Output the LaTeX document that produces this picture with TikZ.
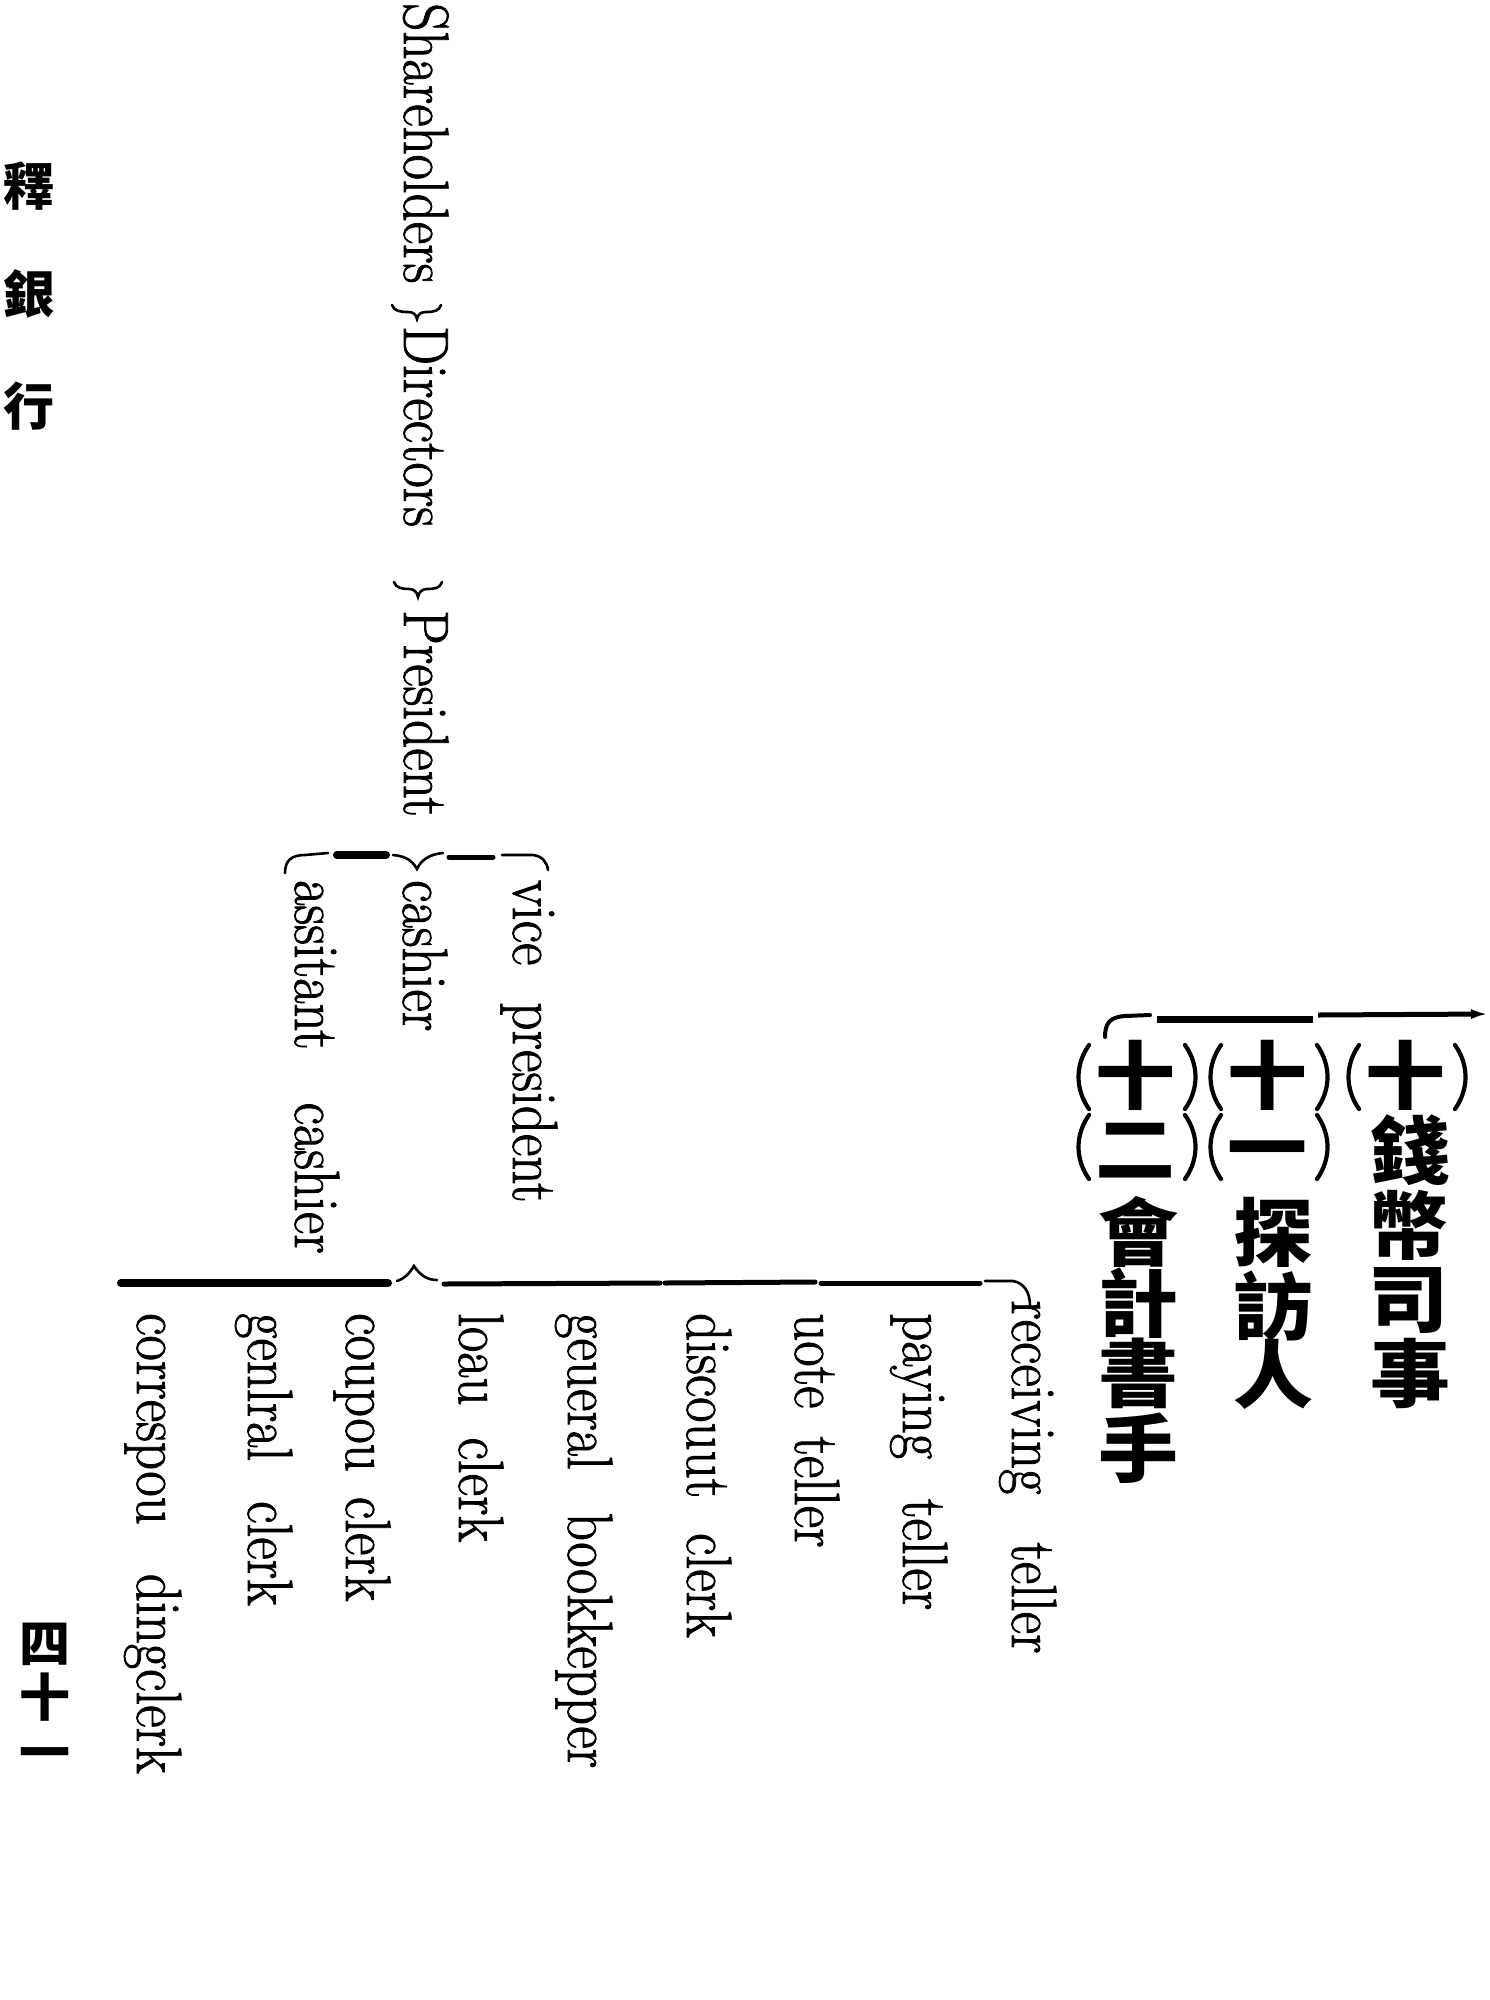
\documentclass[tikz,border=0pt]{standalone}
\usepackage{fontspec}
\usetikzlibrary{arrows.meta}
\newfontfamily\lab{Latin Modern Roman}[FakeStretch=0.86,FakeBold=1.2]
\newfontfamily\cjk{Noto Sans CJK TC}
\newfontfamily\cjkw{Noto Sans CJK TC}[FakeStretch=1.08]
\newcommand{\gap}[1]{\hspace*{#1pt}}
\tikzset{
  lbl/.style={rotate=-90, anchor=base west, inner sep=0pt, font=\lab\fontsize{64}{64}\selectfont},
  han/.style={inner sep=0pt, text height=56pt, text depth=0pt, font=\cjkw\bfseries\fontsize{74}{74}\selectfont},
  margin/.style={inner sep=0pt, text height=39pt, text depth=0pt, font=\cjk\bfseries\fontsize{51}{51}\selectfont},
  rule/.style={line width=5pt, line cap=round},
  heavy/.style={line width=8pt, line cap=round},
  thin/.style={line width=2.6pt, line cap=round},
  paren/.style={line width=4.2pt, line cap=round},
  pp/.pic={
    \draw[paren] (-46,-32) .. controls (-60,-12) and (-60,12) .. (-46,32);
    \draw[paren] (50,-32) .. controls (64,-12) and (64,12) .. (50,32);
  }
}
\begin{document}
\begin{tikzpicture}[x=1pt,y=-1pt]
\useasboundingbox[fill=white] (0,0) rectangle (1489,2000);

% margin title and page number
\node[margin] (m1) at (29,186) {釋};
\node[margin] (m2) at (29,294) {銀};
\node[margin] (m3) at (29,406) {行};
\node[margin] (p1) at (45,1643) {四};
\node[margin] (p2) at (45,1697) {十};
\node[margin] (p3) at (45,1752) {一};

% upper chain
\node[lbl] (sh) at (404,3) {Shareholders};
\node[lbl] (dir) at (404,326) {Directors};
\node[lbl] (pres) at (404,610) {President};
\draw[thin] (392,305) .. controls (394,311) and (400,312) .. (408,312)
  .. controls (413,312) and (416,314) .. (417,319)
  .. controls (418,314) and (421,312) .. (426,312)
  .. controls (434,312) and (439,311) .. (441,305);
\draw[thin] (394,582) .. controls (396,588) and (402,589) .. (409,589)
  .. controls (414,589) and (417,592) .. (418,597)
  .. controls (419,592) and (422,589) .. (427,589)
  .. controls (435,589) and (440,588) .. (442,582);

% brace under President
\draw[thin] (285,873) .. controls (285,860) and (292,855) .. (305,855) -- (328,853);
\draw[heavy] (337,855) -- (386,855);
\draw[thin] (393,855) .. controls (405,856) and (412,860) .. (417,869)
  .. controls (421,860) and (430,854) .. (443,853);
\draw[rule] (449,857) -- (493,857);
\draw[thin] (502,855) -- (533,855) .. controls (542,856) and (547,862) .. (548,870);

\node[lbl] (vp) at (513,880) {vice\gap{37}president};
\node[lbl] (cash) at (403,880) {cashier};
\node[lbl] (asst) at (295,880) {assitant\gap{53}cashier};

% brace under cashier
\draw[heavy] (121,1283) -- (388,1283);
\draw[thin] (397,1281) .. controls (404,1279) and (409,1274) .. (414,1266)
  .. controls (420,1275) and (427,1280) .. (437,1280);
\draw[rule] (444,1284) -- (660,1283);
\draw[rule] (665,1283) -- (815,1282);
\draw[rule] (821,1283) -- (980,1283);
\draw[thin] (985,1281) -- (1013,1281) .. controls (1024,1283) and (1030,1292) .. (1030,1306);

\node[lbl] (rt) at (1012,1300) {receiving\gap{48}teller};
\node[lbl] (pt) at (903,1313) {paying\gap{40}teller};
\node[lbl] (nt) at (795,1313) {uote\gap{28}teller};
\node[lbl] (dc) at (687,1313) {discouut\gap{35}clerk};
\node[lbl] (gb) at (568,1313) {geueral\gap{43}bookkepper};
\node[lbl] (lc) at (459,1313) {loau\gap{32}clerk};
\node[lbl] (cc) at (346,1313) {coupou\gap{25}clerk};
\node[lbl] (gc) at (248,1313) {genlral\gap{40}clerk};
\node[lbl] (cd) at (137,1313) {correspou\gap{49}dingclerk};

% Chinese block
\draw[line width=4pt, line cap=round] (1105,1037) .. controls (1105,1023) and (1110,1017) .. (1125,1016) -- (1150,1015);
\draw[line width=7pt] (1157,1019) -- (1313,1019);
\draw[line width=5pt, -{Latex[length=17pt,width=10pt]}] (1318,1015) -- (1488,1014);

\node[han] (a0) at (1405,1075) {十};
\pic at (1405,1077) {pp};
\node[han] (a1) at (1410,1150) {錢};
\node[han] (a2) at (1408,1225) {幣};
\node[han] (a3) at (1408,1298) {司};
\node[han] (a4) at (1410,1373) {事};

\node[han] (b0) at (1267,1075) {十};
\pic at (1267,1077) {pp};
\node[han] (b1) at (1267,1147) {一};
\pic at (1267,1147) {pp};
\node[han] (b2) at (1273,1232) {探};
\node[han] (b3) at (1273,1306) {訪};
\node[han] (b4) at (1273,1374) {人};

\node[han] (c0) at (1135,1075) {十};
\pic at (1135,1077) {pp};
\node[han] (c1) at (1135,1148) {二};
\pic at (1135,1147) {pp};
\node[han] (c2) at (1138,1232) {會};
\node[han] (c3) at (1138,1303) {計};
\node[han] (c4) at (1138,1373) {書};
\node[han] (c5) at (1138,1448) {手};
\end{tikzpicture}
\end{document}
